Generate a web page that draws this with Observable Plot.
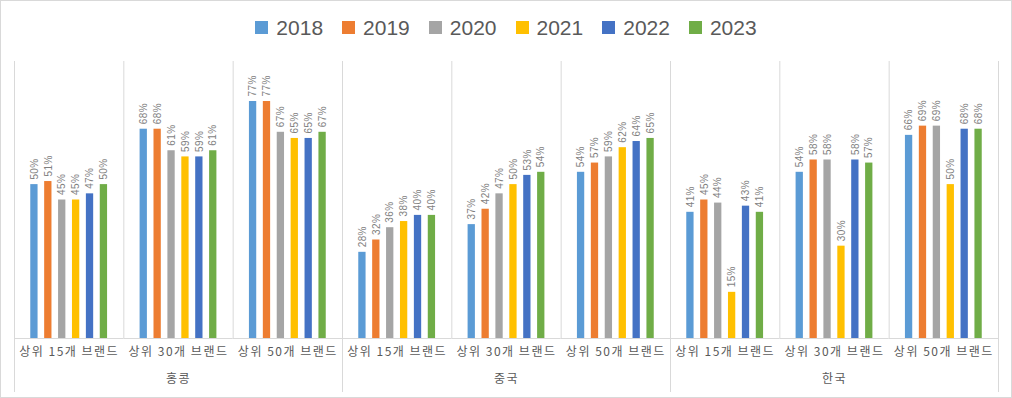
<!DOCTYPE html>
<html><head><meta charset="utf-8">
<script src="https://cdn.jsdelivr.net/npm/d3@7"></script>
<script src="https://cdn.jsdelivr.net/npm/@observablehq/plot@0.6"></script>
<style>
body{margin:0;background:#fff;}
#chart{width:1012px;height:398px;box-sizing:border-box;border:1px solid #d9d9d9;overflow:hidden;background:#fff;}
#legend{height:49px;display:flex;justify-content:center;align-items:center;padding-top:4px;box-sizing:border-box;font-family:"Liberation Sans",Arial,sans-serif;font-size:21px;color:#595959;}
.item{display:flex;align-items:center;margin:0 9.5px;}
.sw{width:13px;height:13px;margin-right:8px;}
#chart svg g[font-family*="Noto"] text{letter-spacing:1.5px;}
#chart svg g[font-size="10"] text{letter-spacing:0.4px;}
</style></head><body>
<div id="chart"><div id="legend"></div></div>
<script>
const years = ["2018", "2019", "2020", "2021", "2022", "2023"];
const colors = ["#5B9BD5", "#ED7D31", "#A5A5A5", "#FFC000", "#4472C4", "#70AD47"];
const regions = ["홍콩", "중국", "한국"];
const categories = ["상위 15개 브랜드", "상위 30개 브랜드", "상위 50개 브랜드"];
// values (%) per category, per year 2018..2023
const hongKong = [[50, 51, 45, 45, 47, 50], [68, 68, 61, 59, 59, 61], [77, 77, 67, 65, 65, 67]];
const china    = [[28, 32, 36, 38, 40, 40], [37, 42, 47, 50, 53, 54], [54, 57, 59, 62, 64, 65]];
const korea    = [[41, 45, 44, 15, 43, 41], [54, 58, 58, 30, 58, 57], [66, 69, 69, 50, 68, 68]];
const regionValues = [hongKong, china, korea];

const keyOf = (r, c) => r + "|" + c;
const facetKeys = regions.flatMap(r => categories.map(c => keyOf(r, c)));
const rows = [];
regions.forEach((r, ri) => categories.forEach((c, ci) => years.forEach((y, yi) => {
  rows.push({region: r, category: c, key: keyOf(r, c), year: y, value: regionValues[ri][ci][yi] / 100});
})));
const catRows = regions.flatMap(r => categories.map(c => ({key: keyOf(r, c), label: c})));
const regionRows = regions.map(r => ({key: keyOf(r, categories[1]), label: r}));
const regionLeft = regions.map(r => ({key: keyOf(r, categories[0])}));
const regionRight = [{key: keyOf(regions[regions.length - 1], categories[categories.length - 1])}];

// legend
const legend = document.getElementById("legend");
years.forEach((y, i) => {
  const it = document.createElement("div"); it.className = "item";
  const sw = document.createElement("div"); sw.className = "sw"; sw.style.background = colors[i];
  const tx = document.createElement("span"); tx.textContent = y;
  it.appendChild(sw); it.appendChild(tx); legend.appendChild(it);
});

const W = 1010, H = 346, ML = 13, MR = 13, MT = 11, MB = 58;
const facetW = (W - ML - MR) / facetKeys.length;
const yMax = 0.9;
const below = v => -v * yMax / (H - MT - MB);
const grid = "#d9d9d9";

const chart = Plot.plot({
  width: W, height: H,
  marginLeft: ML, marginRight: MR, marginTop: MT, marginBottom: MB,
  style: "display:block;background:#fff;font-family:'Liberation Sans',Arial,sans-serif;",
  fx: {domain: facetKeys, padding: 0, round: false, axis: null},
  x: {domain: years, paddingInner: 0.475, paddingOuter: 1.17, round: false, axis: null},
  y: {domain: [0, yMax], axis: null},
  color: {domain: years, range: colors},
  marks: [
    Plot.ruleX(facetKeys.map(k => ({key: k})), {fx: "key", x: null, y1: 0, y2: yMax, dx: -facetW / 2, stroke: grid}),
    Plot.ruleX(regionRight, {fx: "key", x: null, y1: 0, y2: yMax, dx: facetW / 2, stroke: grid}),
    Plot.ruleX(regionLeft, {fx: "key", x: null, y1: 0, y2: below(54), dx: -facetW / 2, stroke: grid}),
    Plot.ruleX(regionRight, {fx: "key", x: null, y1: 0, y2: below(54), dx: facetW / 2, stroke: grid}),
    Plot.ruleY(facetKeys.map(k => ({key: k})), {fx: "key", y: () => 0, stroke: grid}),
    Plot.barY(rows, {fx: "key", x: "year", y: "value", fill: "year"}),
    Plot.text(rows, {fx: "key", x: "year", y: "value", text: d => Math.round(d.value * 100) + "%",
      rotate: -90, textAnchor: "start", lineAnchor: "middle", dy: -5, fontSize: 10, fill: "#7f7f7f"}),
    Plot.text(catRows, {fx: "key", text: "label", frameAnchor: "bottom", dy: 17, fontSize: 12,
      fill: "#595959", fontFamily: "'Noto Sans CJK KR', sans-serif"}),
    Plot.text(regionRows, {fx: "key", text: "label", frameAnchor: "bottom", dy: 44, fontSize: 12,
      fill: "#595959", fontFamily: "'Noto Sans CJK KR', sans-serif"})
  ]
});
document.getElementById("chart").appendChild(chart);
</script>
</body></html>
